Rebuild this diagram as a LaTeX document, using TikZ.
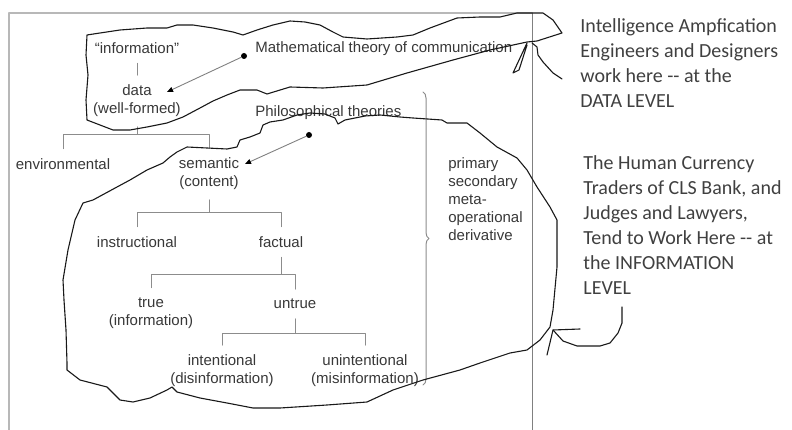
\documentclass[tikz,border=0pt]{standalone}
\usepackage{fontspec}
\setmainfont{Liberation Sans}
\newfontfamily\notefont{Carlito}
\usetikzlibrary{arrows.meta,decorations.pathreplacing}

\begin{document}
\begin{tikzpicture}[x=1pt,y=-1pt,line width=.8pt,line cap=round,line join=round,
 font=\fontsize{15}{18}\selectfont,
 leaf/.style={inner xsep=0pt,inner ysep=9.5pt,align=center,text=black!78},
 label text/.style={inner sep=0pt,text=black!78},
 branch/.style={draw=black!45,line width=1pt},
 pointer/.style={draw=black!50,line width=.9pt,
  -{Triangle[length=6pt,width=5pt,color=black]}},
 dot/.style={circle,fill=black,inner sep=0pt,minimum size=6pt},
 hand/.style={draw=black!90,line width=1.1pt},
 note/.style={anchor=north west,inner sep=0pt,align=left,text=black!75,
  font=\notefont\fontsize{20}{25}\selectfont}]
\useasboundingbox (0,0) rectangle (792,430);
% page frame
\draw[black!28,line width=1.2pt] (9,430)--(9,13)--(532,13);
\draw[black!50,line width=1pt] (532,13)--(532,430);
% the tree
\node[leaf] (info) at (137,48) {“information”};
\node[leaf] (data) at (137,101) {data\\(well-formed)};
\node[leaf] (env) at (63,164) {environmental};
\node[leaf] (sem) at (209,174) {semantic\\(content)};
\node[leaf] (inst) at (137,242) {instructional};
\node[leaf] (fact) at (281,242) {factual};
\node[leaf] (true) at (151,313) {true\\(information)};
\node[leaf] (untrue) at (295,304) {untrue};
\node[leaf] (int) at (222,371) {intentional\\(disinformation)};
\node[leaf] (unint) at (365,371) {unintentional\\(misinformation)};
\draw[branch] (info)--(data);
\draw[branch] (data.south)--(data.south |- 0,135) -| (env.north);
\draw[branch] (data.south |- 0,135) -| (sem.north);
\draw[branch] (sem.south)--(sem.south |- 0,213) -| (inst.north);
\draw[branch] (sem.south |- 0,213) -| (fact.north);
\draw[branch] (fact.south)--(fact.south |- 0,275) -| (true.north);
\draw[branch] (fact.south |- 0,275) -| (untrue.north);
\draw[branch] (untrue.south)--(untrue.south |- 0,333) -| (int.north);
\draw[branch] (untrue.south |- 0,333) -| (unint.north);
% theories
\node[label text,anchor=west] (math) at (255,49) {Mathematical theory of communication};
\node[label text,anchor=west] (phil) at (255,113) {Philosophical theories};
\node[dot] (mdot) at (244,56) {};
\node[dot] (pdot) at (309,135) {};
\coordinate (mtip) at (167,92);
\coordinate (ptip) at (245,164);
\draw[pointer] (mdot)--(mtip);
\draw[pointer] (pdot)--(ptip);
% kinds of information
\draw[branch,decorate,decoration={brace,amplitude=6pt}] (423,92)--(423,385);
\node[label text,anchor=west,align=left] (kinds) at (448,199)
 {primary\\secondary\\meta-\\operational\\derivative};
% notes
\node[note] (dnote) at (580,14.5) {\strut Intelligence Ampfication\\Engineers and Designers\\work here -{}- at the\\DATA LEVEL};
\node[note] (inote) at (583,151.5) {\strut The Human Currency\\Traders of CLS Bank, and\\Judges and Lawyers,\\Tend to Work Here -{}- at\\the INFORMATION\\LEVEL};
% data level loop
\draw[hand] (87,35)--(100,33)--(120,30)--(147,28)--(167,28)--(177,25)--(193,25)
 --(213,28)--(233,32)--(243,35)--(257,30)--(273,25)--(290,21)--(305,22)--(320,25)
 --(333,32)--(343,37)--(367,39)--(397,37)--(413,35)--(430,28)--(457,18)--(480,17)
 --(500,17)--(517,13)--(530,13)--(543,13)--(553,20)--(562,33)--(537,41)--(527,42)
 --(490,50)--(453,60)--(407,73)--(367,85)--(323,88)--(290,87)--(267,94)--(257,90)
 --(240,90)--(227,95)--(213,101)--(200,108)--(183,117)--(167,123)--(147,127)
 --(130,130)--(113,130)--(100,125)--(87,120)--(86,100)--(88,75)--(86,55)--cycle;
% information level loop
\draw[hand] (283,120)--(297,115)--(310,113)--(325,114)--(335,118)--(338,124)
 --(345,120)--(365,116)--(380,115)--(400,117)--(413,118)--(442,120)--(447,123)
 --(467,123)--(480,133)--(497,147)--(517,158)--(527,170)--(537,187)--(550,207)
 --(557,220)--(557,267)--(553,310)--(550,327)--(540,340)--(527,350)--(510,353)
 --(480,363)--(460,370)--(423,380)--(393,390)--(367,402)--(327,405)--(280,408)
 --(253,408)--(227,403)--(200,398)--(177,392)--(172,387)--(167,390)--(150,398)
 --(133,402)--(120,400)--(107,387)--(80,380)--(67,370)--(67,363)--(66,330)
 --(64,300)--(63,280)--(68,250)--(75,220)--(83,203)--(93,200)--(117,187)
 --(130,180)--(147,170)--(163,163)--(170,157)--(177,152)--(187,147)--(207,148)
 --(227,149)--(237,147)--(240,140)--(250,137)--(260,133)--(263,125)--(270,122)
 --cycle;
% hand arrows
\draw[hand] (562,79)--(553,73)--(543,62)--(538,55)--(537,47)--(532,43);
\draw[hand] (527,43)--(513,73)--(519,70)--(527,45);
\draw[hand] (622,307)--(622,323)--(618,333)--(610,343)--(600,346)--(577,346)
 --(563,341)--(553,330);
\draw[hand] (580,329)--(553,330)--(547,355);
\end{tikzpicture}
\end{document}
